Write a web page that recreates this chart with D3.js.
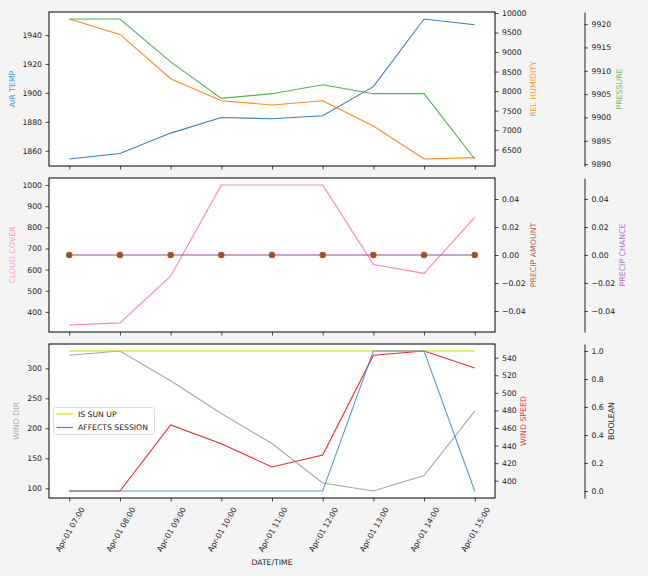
<!DOCTYPE html>
<html><head><meta charset="utf-8">
<script src="https://cdn.jsdelivr.net/npm/d3@7"></script>
<style>
body{margin:0;background:#f4f4f4;}
text{font-family:"DejaVu Sans",sans-serif;}
</style></head>
<body><svg id="c" width="648" height="576"></svg>
<script>
// ---- data ----
const times = ["2024-04-01 07:00","2024-04-01 08:00","2024-04-01 09:00","2024-04-01 10:00","2024-04-01 11:00","2024-04-01 12:00","2024-04-01 13:00","2024-04-01 14:00","2024-04-01 15:00"];
const airTemp = [1854.3,1858.1,1872.2,1883.0,1882.1,1884.2,1904.3,1951.1,1947.1];
const relHumidity = [9846,9452,8318,7754,7644,7754,7106,6261,6295];
const pressure = [9921.1,9921.1,9911.9,9904.1,9905.1,9907.0,9905.1,9905.1,9891.1];
const cloudCover = [338,348,569,1000,1000,1000,624,582,847];
const precipAmount = [0,0,0,0,0,0,0,0,0];
const precipChance = [0,0,0,0,0,0,0,0,0];
const windDir = [321.7,328.9,279.3,224.8,174.6,108.9,95.5,121.2,228.6];
const windSpeed = [388.3,388.3,463.4,442.1,415.6,429.3,542.7,547.6,528.3];
const isSunUp = [1,1,1,1,1,1,1,1,1];
const affectsSession = [0,0,0,0,0,0,1,1,0];

const airTempTicks = [1860,1880,1900,1920,1940];
const humidityTicks = [6500,7000,7500,8000,8500,9000,9500,10000];
const pressureTicks = [9890,9895,9900,9905,9910,9915,9920];
const cloudTicks = [400,500,600,700,800,900,1000];
const precipTicks = [-0.04,-0.02,0,0.02,0.04];
const windDirTicks = [100,150,200,250,300];
const windSpeedTicks = [400,420,440,460,480,500,520,540];
const boolTicks = [0,0.2,0.4,0.6,0.8,1.0];
const legendLabels = ["IS SUN UP","AFFECTS SESSION"];

// ---- layout ----
const L = 49, R = 495, S3 = 584.5;
const panels = [{t:12,b:166},{t:178,b:332},{t:344,b:498}];
const FS = "7.7px";
const svg = d3.select("#c");
svg.append("rect").attr("width",648).attr("height",576).attr("fill","#f4f4f4");

const parse = d3.timeParse("%Y-%m-%d %H:%M");
const dates = times.map(parse);
const ext = d3.extent(dates);
const span = ext[1]-ext[0];
const x = d3.scaleTime().domain([new Date(+ext[0]-span*0.05), new Date(+ext[1]+span*0.05)]).range([L,R]);

function padDomain(vals){
  let lo = d3.min(vals), hi = d3.max(vals);
  if(lo===hi){ lo -= 0.05; hi += 0.05; }
  const p = (hi-lo)*0.05;
  return [lo-p, hi+p];
}

panels.forEach(p=>{
  svg.append("rect").attr("x",L).attr("y",p.t).attr("width",R-L).attr("height",p.b-p.t).attr("fill","#fff");
});

function line(g, y, vals, color, opts={}){
  const gen = d3.line().x((d,i)=>x(dates[i])).y(d=>y(d));
  g.append("path").datum(vals).attr("d",gen).attr("fill","none")
    .attr("stroke",color).attr("stroke-width",opts.w||1.1).attr("opacity",opts.o||1);
}

const intFmt = d3.format("d");
function yAxis(y, ticks, side, xpos, fmt){
  const ax = (side==="left"? d3.axisLeft(y) : d3.axisRight(y))
    .tickValues(ticks).tickSize(3.5).tickPadding(3.5).tickSizeOuter(0)
    .tickFormat(fmt || intFmt);
  const g = svg.append("g").attr("transform",`translate(${xpos},0)`).call(ax);
  g.selectAll("text").attr("font-size",FS).attr("font-family","DejaVu Sans").attr("fill","#222");
  g.selectAll("line").attr("stroke","#222").attr("stroke-width",0.8);
  g.select(".domain").attr("stroke","#222").attr("stroke-width",1);
  return g;
}
function ylabel(txt, xpos, p, color){
  svg.append("text").attr("transform",`translate(${xpos},${(p.t+p.b)/2}) rotate(-90)`)
    .attr("text-anchor","middle").attr("dominant-baseline","central")
    .attr("font-size","7.8px").attr("fill",color).text(txt);
}

const C = {
  air:"#3a7fc0", hum:"#ff8a1c", pres:"#55b04f",
  cloud:"#ff80c6", pamt:"#a0522d", pch:"#9a48a6",
  wdir:"#a6a6a6", wspd:"#ee2a2a", sun:"#d6d600", aff:"#3f88c8"
};

// ---- panel 1 ----
const p1 = panels[0];
const yAir = d3.scaleLinear().domain(padDomain(airTemp)).range([p1.b,p1.t]);
const yHum = d3.scaleLinear().domain(padDomain(relHumidity)).range([p1.b,p1.t]);
const yPres = d3.scaleLinear().domain(padDomain(pressure)).range([p1.b,p1.t]);
const g1 = svg.append("g");
line(g1,yAir,airTemp,C.air);
line(g1,yHum,relHumidity,C.hum);
line(g1,yPres,pressure,C.pres);
yAxis(yAir,airTempTicks,"left",L).select(".domain").remove();
yAxis(yHum,humidityTicks,"right",R).select(".domain").remove();
yAxis(yPres,pressureTicks,"right",S3);
ylabel("AIR TEMP",12,p1,"#5b93c8");
ylabel("REL HUMIDITY",533.5,p1,"#ff9a3a");
ylabel("PRESSURE",619,p1,"#6cbc66");

// ---- panel 2 ----
const p2 = panels[1];
const yCloud = d3.scaleLinear().domain(padDomain(cloudCover)).range([p2.b,p2.t]);
const yPA = d3.scaleLinear().domain(padDomain(precipAmount)).range([p2.b,p2.t]);
const yPC = d3.scaleLinear().domain(padDomain(precipChance)).range([p2.b,p2.t]);
const g2 = svg.append("g");
line(g2,yCloud,cloudCover,C.cloud);
line(g2,yPC,precipChance,C.pch);
g2.selectAll("circle").data(precipAmount).join("circle")
  .attr("cx",(d,i)=>x(dates[i])).attr("cy",d=>yPA(d)).attr("r",3.2).attr("fill",C.pamt);
yAxis(yCloud,cloudTicks,"left",L).select(".domain").remove();
yAxis(yPA,precipTicks,"right",R,d3.format(".2f")).select(".domain").remove();
yAxis(yPC,precipTicks,"right",S3,d3.format(".2f"));
ylabel("CLOUD COVER",12,p2,"#ff99cc");
ylabel("PRECIP AMOUNT",533,p2,"#b06a48");
ylabel("PRECIP CHANCE",622,p2,"#b46cc0");

// ---- panel 3 ----
const p3 = panels[2];
const yWD = d3.scaleLinear().domain(padDomain(windDir)).range([p3.b,p3.t]);
const yWS = d3.scaleLinear().domain(padDomain(windSpeed)).range([p3.b,p3.t]);
const yB = d3.scaleLinear().domain(padDomain(isSunUp.concat(affectsSession))).range([p3.b,p3.t]);
const g3 = svg.append("g");
line(g3,yWD,windDir,C.wdir);
line(g3,yWS,windSpeed,C.wspd);
line(g3,yB,isSunUp,C.sun);
line(g3,yB,affectsSession,C.aff,{o:0.85});
yAxis(yWD,windDirTicks,"left",L).select(".domain").remove();
yAxis(yWS,windSpeedTicks,"right",R).select(".domain").remove();
yAxis(yB,boolTicks,"right",S3,d3.format(".1f"));
ylabel("WIND DIR",16.5,p3,"#b0b0b0");
ylabel("WIND SPEED",523.5,p3,"#ee3a3a");
ylabel("BOOLEAN",611,p3,"#222");

// legend
const lg = svg.append("g").attr("transform","translate(53.5,407.5)");
lg.append("rect").attr("width",101).attr("height",27).attr("rx",2).attr("fill","#fff").attr("fill-opacity",0.8).attr("stroke","#d0d0d0").attr("stroke-width",0.8);
[C.sun,C.aff].forEach((c,i)=>{
  const yy = 6.5+i*13.5;
  lg.append("line").attr("x1",3).attr("x2",19.5).attr("y1",yy).attr("y2",yy).attr("stroke",c).attr("stroke-width",1.2);
  lg.append("text").attr("x",24.5).attr("y",yy).attr("dominant-baseline","central").attr("font-size",FS).attr("fill","#222").text(legendLabels[i]);
});

// ---- x axes ----
panels.forEach((p,k)=>{
  const ax = d3.axisBottom(x).tickValues(dates).tickSize(3.5).tickSizeOuter(0).tickFormat(k===2?d3.timeFormat("%b-%d %H:%M"):"");
  const g = svg.append("g").attr("transform",`translate(0,${p.b})`).call(ax);
  g.select(".domain").remove();
  g.selectAll("line").attr("stroke","#222").attr("stroke-width",0.8);
  if(k===2){
    g.selectAll("text").attr("font-size",FS).attr("fill","#222")
      .attr("text-anchor","end").attr("dy",null).attr("y",null)
      .attr("dominant-baseline","central")
      .attr("transform","translate(13,10) rotate(-60)");
  }
});
panels.forEach(p=>{
  svg.append("rect").attr("x",L).attr("y",p.t).attr("width",R-L).attr("height",p.b-p.t).attr("fill","none").attr("stroke","#000").attr("stroke-width",1);
});
svg.append("text").attr("x",(L+R)/2).attr("y",562.5).attr("text-anchor","middle").attr("dominant-baseline","central")
  .attr("font-size",FS).attr("fill","#222").text("DATE/TIME");
</script></body></html>
